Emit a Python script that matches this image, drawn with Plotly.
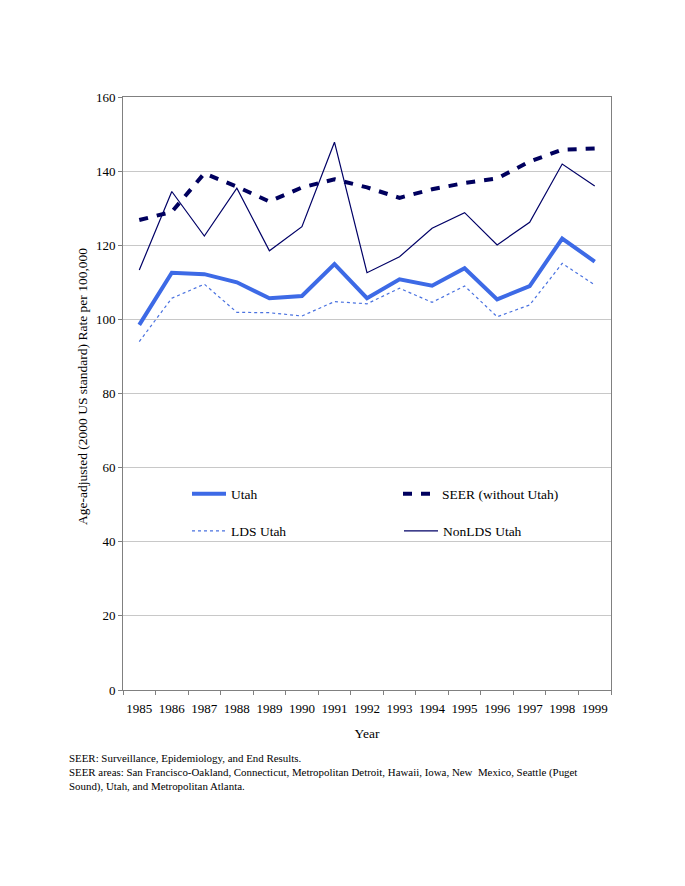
import plotly.graph_objects as go

years = [str(y) for y in range(1985, 2000)]
utah = [98.5, 112.6, 112.2, 110.0, 105.7, 106.3, 114.9, 105.7, 110.8, 109.1, 113.8, 105.4, 109.0, 121.8, 115.6]
seer = [126.8, 129.0, 139.4, 135.8, 131.8, 135.6, 137.8, 135.6, 132.8, 135.1, 136.8, 138.0, 142.6, 145.8, 146.1]
lds = [94.0, 105.7, 109.5, 101.9, 101.8, 100.9, 104.8, 104.2, 108.4, 104.6, 109.0, 100.7, 103.9, 115.1, 109.3]
nonlds = [113.3, 134.5, 122.5, 135.4, 118.5, 125.0, 147.8, 112.6, 116.9, 124.6, 128.8, 120.1, 126.2, 141.9, 136.0]

FONT = "Liberation Serif, Times New Roman, serif"

# page offset of the html body (8px) is compensated in margins
L, T, PW, PH = 115, 89, 488, 593
W, H = 685, 886

def px_x(page_x):
    return (page_x - 8 - L) / PW

def px_y(page_y):
    return 1 - (page_y - 8 - T) / PH

fig = go.Figure()
fig.add_trace(go.Scatter(x=years, y=utah, mode="lines", name="Utah",
                         line=dict(color="#3d6ae6", width=4), legend="legend"))
fig.add_trace(go.Scatter(x=years, y=seer, mode="lines", name="SEER (without Utah)",
                         line=dict(color="#00005e", width=4, dash="9px,9px"), legend="legend2"))
fig.add_trace(go.Scatter(x=years, y=lds, mode="lines", name="LDS Utah",
                         line=dict(color="#4a72e0", width=1.2, dash="dot"), legend="legend3"))
fig.add_trace(go.Scatter(x=years, y=nonlds, mode="lines", name="NonLDS Utah",
                         line=dict(color="#000066", width=1.2), legend="legend4"))

leg_common = dict(bgcolor="rgba(0,0,0,0)", font=dict(family=FONT, size=13.5, color="#000"),
                  xanchor="left", yanchor="middle", itemwidth=34)
fig.update_layout(
    width=W, height=H,
    paper_bgcolor="white", plot_bgcolor="white",
    margin=dict(l=L, r=W - L - PW, t=T, b=H - T - PH, autoexpand=False),
    font=dict(family=FONT, size=13, color="#000"),
    showlegend=True,
    legend=dict(x=px_x(187), y=px_y(494), **leg_common),
    legend2=dict(x=px_x(398), y=px_y(494), **leg_common),
    legend3=dict(x=px_x(187), y=px_y(531), **leg_common),
    legend4=dict(x=px_x(399), y=px_y(531), **leg_common),
    xaxis=dict(type="category", range=[-0.5, 14.5], showgrid=False, showline=True,
               linecolor="#808080", mirror=True, ticks="outside", tickson="boundaries",
               ticklen=4, tickcolor="#808080", tickangle=0, ticklabelstandoff=6,
               tickfont=dict(family=FONT, size=13), automargin=False,
               title=dict(text="Year", font=dict(family=FONT, size=13.5), standoff=13)),
    yaxis=dict(range=[0, 160], dtick=20, showgrid=True, gridcolor="#c8c8c8", gridwidth=1,
               showline=True, linecolor="#808080", mirror=True, ticks="outside", ticklen=4,
               tickcolor="#808080", tickfont=dict(family=FONT, size=13), zeroline=False,
               automargin=False),
)

fig.add_annotation(text="Age-adjusted (2000 US standard) Rate per 100,000",
                   xref="paper", yref="paper", x=px_x(82), y=px_y(387),
                   xanchor="center", yanchor="middle", textangle=-90, showarrow=False,
                   font=dict(family=FONT, size=13.5, color="#000"))

notes = [
    "SEER: Surveillance, Epidemiology, and End Results.",
    "SEER areas: San Francisco-Oakland, Connecticut, Metropolitan Detroit, Hawaii, Iowa, New  Mexico, Seattle (Puget",
    "Sound), Utah, and Metropolitan Atlanta.",
]
for i, t in enumerate(notes):
    fig.add_annotation(text=t, xref="paper", yref="paper", x=px_x(67),
                       y=px_y(758 + 14 * i), xanchor="left", yanchor="middle",
                       showarrow=False, font=dict(family=FONT, size=10.9, color="#000"))

fig.write_html("out.html")
